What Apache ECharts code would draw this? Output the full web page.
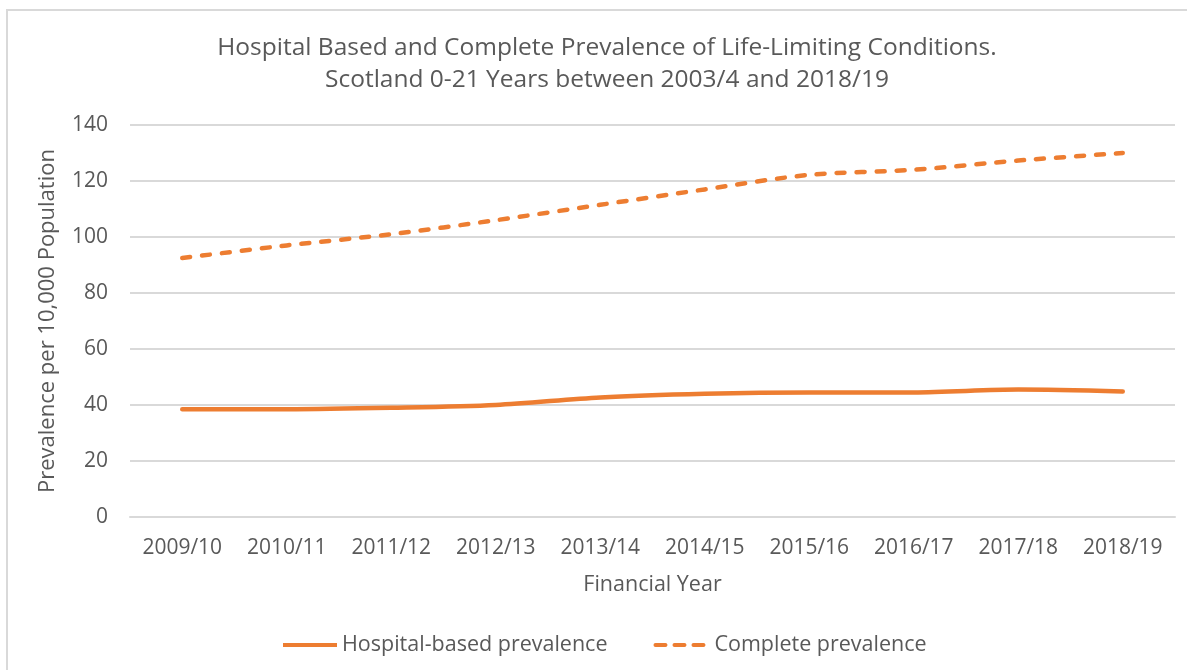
<!DOCTYPE html>
<html>
<head>
<meta charset="utf-8">
<script src="https://cdn.jsdelivr.net/npm/echarts@6/dist/echarts.min.js"></script>
<style>
  html, body { margin: 0; padding: 0; background: #fff; }
  #main { width: 1187px; height: 670px; }
</style>
</head>
<body>
<div id="main"></div>
<script>
const years = ['2009/10', '2010/11', '2011/12', '2012/13', '2013/14', '2014/15', '2015/16', '2016/17', '2017/18', '2018/19']
const hospital = [38.5, 38.5, 39, 40, 42.7, 44, 44.5, 44.5, 45.5, 44.8]
const complete = [92.5, 97, 101, 106, 111.5, 117, 122.2, 124, 127.3, 130]
const yTicks = [0, 20, 40, 60, 80, 100, 120, 140]

const orange = '#ED7D31'
const grey = '#595959'
const font = 'Open Sans'

const myChart = echarts.init(document.getElementById('main'))

myChart.setOption({
  animation: false,
  textStyle: { fontFamily: font },
  // chart border like the excel chart area
  graphic: [{
    type: 'rect',
    shape: { x: 7, y: 10, width: 1200, height: 700 },
    style: { fill: 'none', stroke: '#D9D9D9', lineWidth: 2 }
  }],
  title: {
    text: 'Hospital Based and Complete Prevalence of Life-Limiting Conditions.\nScotland 0-21 Years between 2003/4 and 2018/19',
    left: 602,
    textAlign: 'center',
    top: 27,
    textStyle: { color: grey, fontSize: 24.5, fontWeight: 'normal', lineHeight: 32, fontFamily: font }
  },
  legend: {
    bottom: 9,
    left: 278,
    itemWidth: 54,
    itemHeight: 4,
    itemGap: 46,
    textStyle: { color: grey, fontSize: 21.5, fontFamily: font, padding: [0, 0, 0, 0] },
    data: [
      { name: 'Hospital-based prevalence', icon: 'rect' },
      { name: 'Complete prevalence', lineStyle: { width: 4, type: [10, 9], cap: 'round' } }
    ]
  },
  grid: { left: 130, right: 12, top: 125, bottom: 153 },
  xAxis: {
    type: 'category',
    data: years,
    boundaryGap: true,
    name: 'Financial Year',
    nameLocation: 'middle',
    nameGap: 57,
    nameTextStyle: { color: grey, fontSize: 21.5, fontFamily: font },
    axisLine: { lineStyle: { color: '#D9D9D9', width: 2 } },
    axisTick: { show: false },
    axisLabel: { color: grey, fontSize: 21, margin: 21, interval: 0, hideOverlap: false, fontFamily: font }
  },
  yAxis: {
    type: 'value',
    min: yTicks[0],
    max: yTicks[yTicks.length - 1],
    interval: 20,
    name: 'Prevalence per 10,000 Population',
    nameLocation: 'middle',
    nameGap: 71,
    nameTextStyle: { color: grey, fontSize: 22, fontFamily: font },
    axisLine: { show: false },
    axisTick: { show: false },
    axisLabel: { color: grey, fontSize: 21, margin: 22, fontFamily: font },
    splitLine: { lineStyle: { color: '#D9D9D9', width: 2 } }
  },
  series: [
    {
      name: 'Hospital-based prevalence',
      type: 'line',
      data: hospital,
      smooth: 0.3,
      symbol: 'none',
      itemStyle: { color: orange },
      lineStyle: { color: orange, width: 4.5, cap: 'round' }
    },
    {
      name: 'Complete prevalence',
      type: 'line',
      data: complete,
      smooth: 0.3,
      symbol: 'none',
      itemStyle: { color: orange },
      lineStyle: { color: orange, width: 4.5, type: [8, 12], cap: 'round' }
    }
  ]
})
</script>
</body>
</html>
